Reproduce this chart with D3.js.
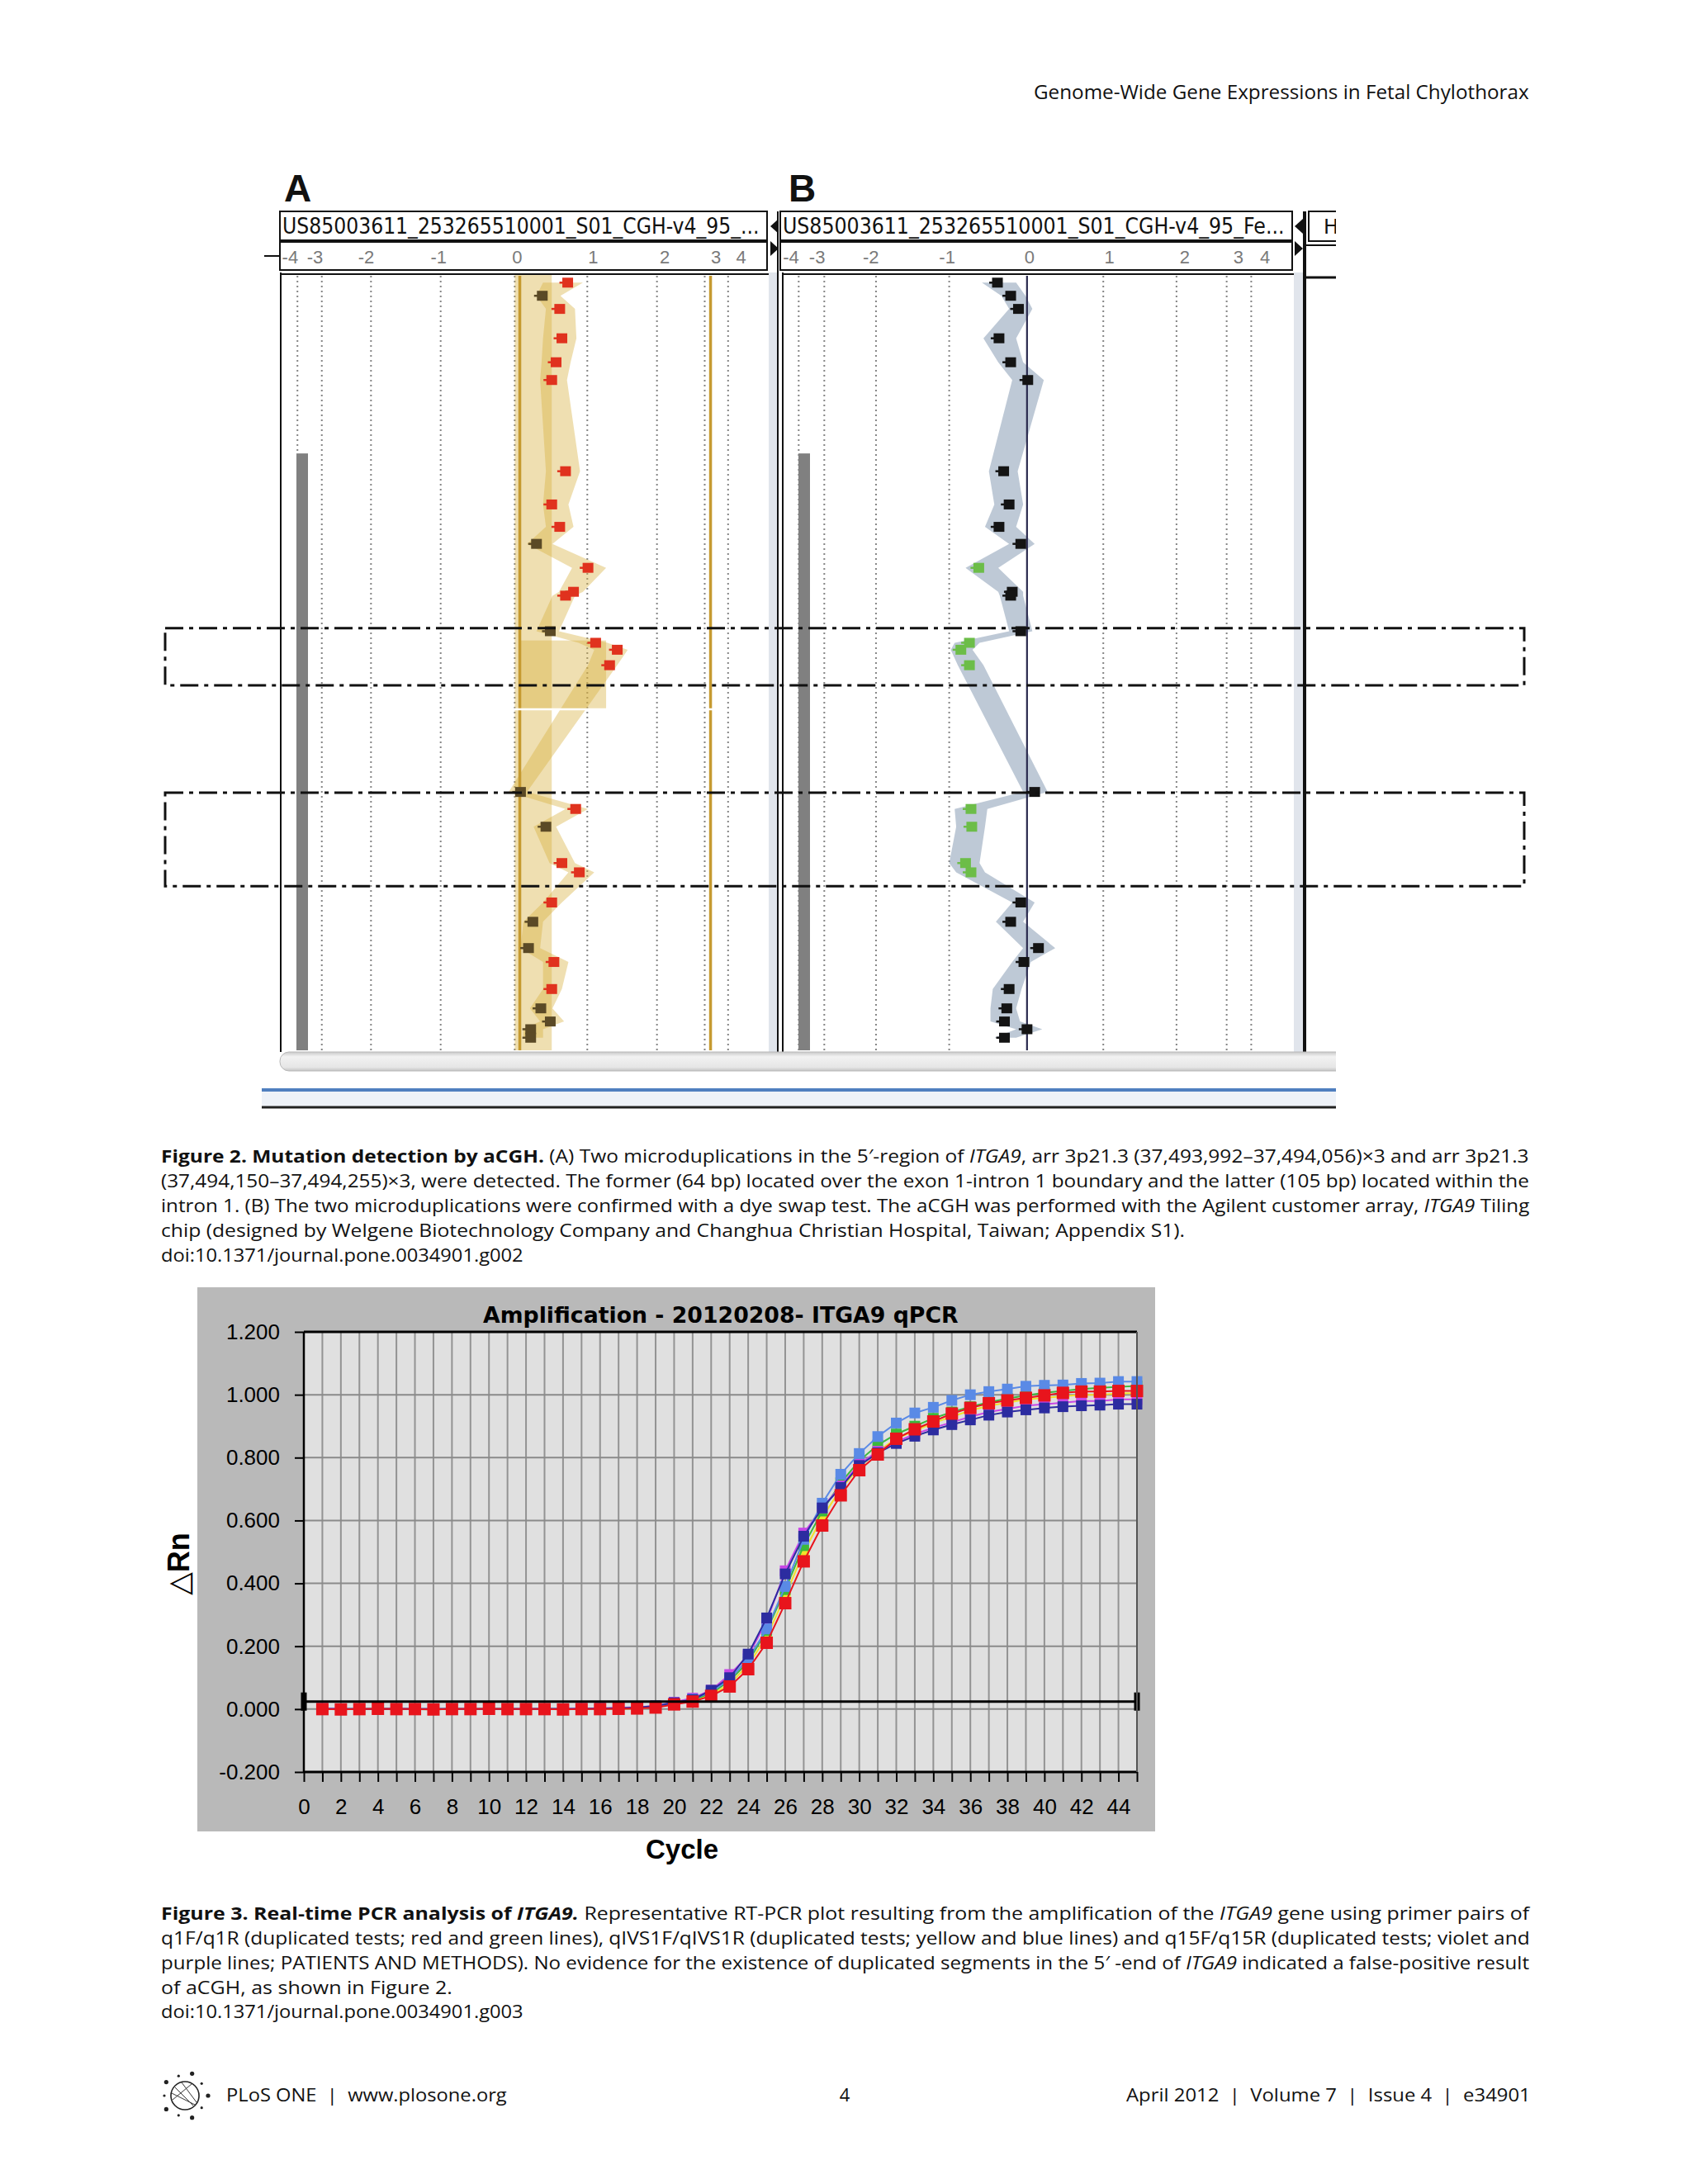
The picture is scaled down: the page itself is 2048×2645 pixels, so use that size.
<!DOCTYPE html>
<html><head><meta charset="utf-8">
<script src="https://cdn.jsdelivr.net/npm/d3@7/dist/d3.min.js"></script>
<style>html,body{margin:0;padding:0;background:#fff}svg{display:block}text{white-space:pre}</style>
</head><body>
<svg id="page" width="2048" height="2645" viewBox="0 0 2048 2645"></svg>
<script>
// ================= DATA =================
const runningHead = "Genome-Wide Gene Expressions in Fetal Chylothorax";
const panelLabels = ["A", "B"];
const panelTitles = ["US85003611_253265510001_S01_CGH-v4_95_...", "US85003611_253265510001_S01_CGH-v4_95_Fe..."];
const ratioTicks = [-4, -3, -2, -1, 0, 1, 2, 3, 4];
const ratioTickLabels = ["-4", "-3", "-2", "-1", "0", "1", "2", "3", "4"];
// probe position along the region (0 = top of view, 1000 = bottom)
const probePos = [11, 28, 45, 83, 114, 137, 255, 298, 327, 349, 380, 411, 416, 462, 477, 486, 506, 670, 692, 715, 762, 774, 813, 838, 872, 890, 925, 950, 967, 977, 988];
// panel A log ratios and error envelope
const ratioA = [0.73, 0.38, 0.62, 0.65, 0.57, 0.51, 0.70, 0.51, 0.62, 0.30, 1.01, 0.81, 0.70, 0.49, 1.12, 1.43, 1.32, 0.08, 0.84, 0.43, 0.65, 0.89, 0.51, 0.25, 0.19, 0.54, 0.51, 0.36, 0.49, 0.22, 0.22];
const loA = [0.39, 0.30, 0.43, 0.39, 0.37, 0.35, 0.43, 0.39, 0.43, 0.17, 0.79, 0.61, 0.52, 0.30, 0.88, 1.10, 1.01, -0.08, 0.70, 0.26, 0.48, 0.74, 0.39, 0.12, 0.08, 0.39, 0.39, 0.21, 0.35, 0.12, 0.12];
const hiA = [0.94, 0.63, 0.83, 0.85, 0.77, 0.72, 0.90, 0.74, 0.81, 0.52, 1.27, 0.94, 0.83, 0.61, 1.29, 1.58, 1.43, 0.17, 1.01, 0.57, 0.83, 1.10, 0.65, 0.39, 0.35, 0.74, 0.65, 0.52, 0.68, 0.39, 0.39];
// panel B (dye swap) log ratios and error envelope
const ratioB = [-0.38, -0.21, -0.11, -0.36, -0.21, 0.01, -0.30, -0.23, -0.36, -0.08, -0.62, -0.19, -0.21, -0.08, -0.74, -0.85, -0.74, 0.10, -0.72, -0.71, -0.79, -0.72, -0.08, -0.21, 0.15, -0.04, -0.23, -0.26, -0.29, 0.00, -0.29];
const loB = [-0.58, -0.33, -0.23, -0.56, -0.37, -0.19, -0.49, -0.42, -0.54, -0.23, -0.79, -0.37, -0.35, -0.23, -0.93, -0.98, -0.89, -0.05, -0.93, -0.91, -1.00, -0.91, -0.19, -0.40, -0.05, -0.19, -0.44, -0.47, -0.47, -0.14, -0.42];
const hiB = [-0.14, -0.02, 0.07, -0.14, -0.05, 0.22, -0.12, -0.05, -0.14, 0.10, -0.37, -0.05, -0.05, 0.07, -0.61, -0.70, -0.56, 0.27, -0.51, -0.54, -0.61, -0.54, 0.10, -0.05, 0.37, 0.05, -0.07, -0.14, -0.09, 0.20, -0.14];
const callThreshold = [0.5, -0.5];
const geneStartPos = 232;
const dupRegions = [[458, 532], [671, 792]];
const callRegionPos = [474, 563];
const callRegionRatio = [0.07, 1.27];
const bandRatio = [0, 0.51];
const goldLines = [0.07, 3.25];

// qPCR
const qTitle = "Amplification - 20120208- ITGA9 qPCR";
const cycles = d3.range(1, 46);
const xTickValues = d3.range(0, 46);
const yTickValues = [-0.2, 0, 0.2, 0.4, 0.6, 0.8, 1.0, 1.2];
const yTickLabels = ["-0.200", "0.000", "0.200", "0.400", "0.600", "0.800", "1.000", "1.200"];
const threshold = 0.024;
const seriesNames = ["yellow", "green", "violet", "blue", "purple", "red"];
const seriesColors = ["#f2e22a", "#3cb83c", "#c846e6", "#5a8ae6", "#2c2ca0", "#e8141c"];
const yellowRn = [0.000, 0.001, 0.000, 0.000, -0.001, 0.000, 0.000, 0.001, 0.000, 0.000, 0.000, -0.001, 0.000, 0.000, 0.001, 0.000, 0.001, 0.002, 0.006, 0.016, 0.027, 0.045, 0.080, 0.140, 0.230, 0.360, 0.500, 0.610, 0.700, 0.770, 0.820, 0.860, 0.885, 0.910, 0.930, 0.950, 0.965, 0.975, 0.985, 0.990, 0.995, 1.000, 1.000, 1.004, 1.005];
const greenRn = [0.001, 0.000, 0.000, 0.001, 0.000, 0.000, -0.001, 0.000, 0.000, 0.001, 0.000, 0.000, 0.000, 0.001, 0.000, 0.001, 0.002, 0.003, 0.008, 0.018, 0.030, 0.050, 0.090, 0.150, 0.250, 0.380, 0.520, 0.630, 0.720, 0.790, 0.840, 0.875, 0.900, 0.925, 0.945, 0.962, 0.976, 0.988, 0.998, 1.006, 1.012, 1.018, 1.022, 1.025, 1.028];
const violetRn = [0.002, 0.001, 0.000, 0.000, 0.001, 0.000, 0.000, 0.000, 0.001, 0.000, 0.000, 0.001, 0.000, 0.001, 0.002, 0.002, 0.004, 0.006, 0.010, 0.022, 0.035, 0.060, 0.110, 0.170, 0.280, 0.440, 0.560, 0.640, 0.710, 0.780, 0.820, 0.850, 0.875, 0.895, 0.912, 0.930, 0.945, 0.955, 0.965, 0.970, 0.975, 0.980, 0.980, 0.985, 0.985];
const blueRn = [0.000, 0.000, 0.001, 0.000, 0.000, 0.000, 0.001, 0.000, 0.000, 0.000, 0.001, 0.000, 0.000, 0.000, 0.001, 0.001, 0.002, 0.004, 0.008, 0.020, 0.032, 0.055, 0.095, 0.160, 0.255, 0.390, 0.540, 0.655, 0.747, 0.813, 0.867, 0.910, 0.942, 0.960, 0.982, 1.000, 1.010, 1.018, 1.027, 1.030, 1.031, 1.036, 1.037, 1.042, 1.042];
const purpleRn = [0.001, 0.000, 0.000, 0.000, 0.001, 0.000, 0.000, 0.001, 0.000, 0.000, 0.000, 0.000, 0.001, 0.000, 0.001, 0.002, 0.003, 0.005, 0.010, 0.020, 0.030, 0.060, 0.100, 0.175, 0.290, 0.430, 0.550, 0.640, 0.705, 0.775, 0.815, 0.845, 0.868, 0.888, 0.905, 0.920, 0.935, 0.945, 0.952, 0.958, 0.962, 0.965, 0.967, 0.970, 0.970];
const redRn = [0.000, -0.001, 0.000, 0.001, 0.000, 0.000, -0.001, 0.000, 0.000, 0.001, 0.000, 0.000, 0.000, -0.001, 0.000, 0.000, 0.001, 0.002, 0.005, 0.015, 0.024, 0.042, 0.072, 0.127, 0.211, 0.337, 0.470, 0.584, 0.680, 0.760, 0.810, 0.860, 0.890, 0.915, 0.940, 0.958, 0.973, 0.982, 0.990, 0.998, 1.006, 1.010, 1.010, 1.012, 1.012];
const seriesValues = [yellowRn, greenRn, violetRn, blueRn, purpleRn, redRn];

// captions (text runs: [text, style])
const fig2Caption = [
  [["Figure 2. Mutation detection by aCGH.", "b"], [" (A) Two microduplications in the 5\u2032-region of ", ""], ["ITGA9", "i"], [", arr 3p21.3 (37,493,992\u201337,494,056)\u00d73 and arr 3p21.3", ""]],
  [["(37,494,150\u201337,494,255)\u00d73, were detected. The former (64 bp) located over the exon 1-intron 1 boundary and the latter (105 bp) located within the", ""]],
  [["intron 1. (B) The two microduplications were confirmed with a dye swap test. The aCGH was performed with the Agilent customer array, ", ""], ["ITGA9", "i"], [" Tiling", ""]],
  [["chip (designed by Welgene Biotechnology Company and Changhua Christian Hospital, Taiwan; Appendix S1).", ""]],
  [["doi:10.1371/journal.pone.0034901.g002", ""]]
];
const fig3Caption = [
  [["Figure 3. Real-time PCR analysis of ", "b"], ["ITGA9.", "bi"], [" Representative RT-PCR plot resulting from the amplification of the ", ""], ["ITGA9", "i"], [" gene using primer pairs of", ""]],
  [["q1F/q1R (duplicated tests; red and green lines), qIVS1F/qIVS1R (duplicated tests; yellow and blue lines) and q15F/q15R (duplicated tests; violet and", ""]],
  [["purple lines; PATIENTS AND METHODS). No evidence for the existence of duplicated segments in the 5\u2032 -end of ", ""], ["ITGA9", "i"], [" indicated a false-positive result", ""]],
  [["of aCGH, as shown in Figure 2.", ""]],
  [["doi:10.1371/journal.pone.0034901.g003", ""]]
];
const footerLeft = "PLoS ONE  |  www.plosone.org";
const footerPage = "4";
const footerRight = "April 2012  |  Volume 7  |  Issue 4  |  e34901";

// ================= LAYOUT / DRAW =================
const svg = d3.select("#page");
svg.append("rect").attr("width", 2048).attr("height", 2645).attr("fill", "#fff");
const SANS = "'Open Sans','Noto Sans','DejaVu Sans',sans-serif";
const ARIAL = "'Liberation Sans',Arial,'DejaVu Sans',sans-serif";
const DEJA = "'DejaVu Sans',sans-serif";

// place a text so that it spans exactly `width` px starting at (x, y), by horizontal scaling
function fitText(t, x, y, width) {
  t.attr("x", 0).attr("y", 0);
  const w = t.node().getComputedTextLength();
  const sx = w > 0 ? width / w : 1;
  t.attr("transform", `translate(${x},${y}) scale(${sx.toFixed(4)},1)`);
  return t;
}

function richLine(parent, x, y, segs, width, size) {
  const t = parent.append("text").attr("font-family", SANS).attr("font-size", size).attr("fill", "#111");
  segs.forEach(s => {
    t.append("tspan").text(s[0])
      .attr("font-weight", s[1].includes("b") ? 700 : 400)
      .attr("font-style", s[1].includes("i") ? "italic" : "normal");
  });
  return fitText(t, x, y, width);
}

// running head
fitText(svg.append("text").attr("font-family", SANS).attr("font-size", 24).attr("fill", "#111").text(runningHead), 1252, 120, 600);

// ---------- Figure 2 ----------
const defs = svg.append("defs");
defs.append("clipPath").attr("id", "figClip").append("rect").attr("x", 300).attr("y", 190).attr("width", 1318).attr("height", 1160);
defs.append("clipPath").attr("id", "plotClipA").append("rect").attr("x", 341).attr("y", 333).attr("width", 590).attr("height", 939);
defs.append("clipPath").attr("id", "plotClipB").append("rect").attr("x", 949).attr("y", 333).attr("width", 618).attr("height", 939);
const grad = defs.append("linearGradient").attr("id", "scrollGrad").attr("x1", 0).attr("y1", 0).attr("x2", 0).attr("y2", 1);
grad.append("stop").attr("offset", 0).attr("stop-color", "#c9c9c9");
grad.append("stop").attr("offset", 0.25).attr("stop-color", "#f2f2f2");
grad.append("stop").attr("offset", 0.8).attr("stop-color", "#e6e6e6");
grad.append("stop").attr("offset", 1).attr("stop-color", "#c4c4c4");

const fig = svg.append("g").attr("clip-path", "url(#figClip)");
const yPos = d3.scaleLinear().domain([0, 1000]).range([332, 1268]);
// Agilent viewer's compressed log-ratio axis (grid) and its header label placement
const tickFrac = [0.036, 0.086, 0.187, 0.330, 0.482, 0.631, 0.774, 0.872, 0.920];
const labelFrac = [0.021, 0.072, 0.177, 0.326, 0.487, 0.643, 0.790, 0.895, 0.947];
const ratioScale = (x0, w, fr) => d3.scaleLinear().domain(ratioTicks).range(fr.map(f => x0 + f * w));

const panelCfg = [
  { hx0: 339, hw: 590, px0: 340, px1: 931, clip: "plotClipA", ratio: ratioA, lo: loA, hi: hiA,
    env: "rgba(215,175,60,0.40)", up: "#e0321e", mid: "#5b4a26", down: "#5b4a26", labelX: 344 },
  { hx0: 945, hw: 620, px0: 948, px1: 1567, clip: "plotClipB", ratio: ratioB, lo: loB, hi: hiB,
    env: "rgba(120,142,170,0.48)", up: "#141414", mid: "#141414", down: "#6cbd48", labelX: 955 }
];

panelCfg.forEach((cfg, pi) => {
  const xs = ratioScale(cfg.hx0, cfg.hw, tickFrac);
  const xl = ratioScale(cfg.hx0, cfg.hw, labelFrac);
  const g = fig.append("g");
  const pg = g.append("g").attr("clip-path", `url(#${cfg.clip})`);
  pg.append("rect").attr("x", cfg.px0).attr("y", 332).attr("width", cfg.px1 - cfg.px0).attr("height", 940).attr("fill", "#fff");
  // dotted grid
  ratioTicks.forEach(v => {
    if (pi === 1 && v === 0) return;
    pg.append("line").attr("x1", xs(v)).attr("x2", xs(v)).attr("y1", 334).attr("y2", 1272)
      .attr("stroke", "#858585").attr("stroke-width", 2).attr("stroke-dasharray", "2,4");
  });
  // gene bar
  pg.append("rect").attr("x", cfg.px0 + 19).attr("width", 14).attr("y", yPos(geneStartPos))
    .attr("height", yPos(1000) - yPos(geneStartPos) + 6).attr("fill", "#808080");
  if (pi === 0) {
    pg.append("rect").attr("x", xs(bandRatio[0])).attr("width", xs(bandRatio[1]) - xs(bandRatio[0]))
      .attr("y", 332).attr("height", 940).attr("fill", "rgba(215,175,60,0.40)");
    pg.append("rect").attr("x", xs(callRegionRatio[0])).attr("width", xs(callRegionRatio[1]) - xs(callRegionRatio[0]))
      .attr("y", yPos(callRegionPos[0])).attr("height", yPos(callRegionPos[1]) - yPos(callRegionPos[0]))
      .attr("fill", "rgba(215,175,60,0.40)");
  }
  const data = probePos.map((p, i) => ({ p, v: cfg.ratio[i], lo: cfg.lo[i], hi: cfg.hi[i] }));
  pg.append("path").datum(data)
    .attr("d", d3.area().y(d => yPos(d.p)).x0(d => xs(d.lo)).x1(d => xs(d.hi)))
    .attr("fill", cfg.env);
  if (pi === 0) {
    goldLines.forEach(v => pg.append("line").attr("x1", xs(v)).attr("x2", xs(v)).attr("y1", 334).attr("y2", 1272)
      .attr("stroke", "#c69a30").attr("stroke-width", 3.5));
    pg.append("line").attr("x1", xs(-0.2)).attr("x2", xs(3.6)).attr("y1", yPos(callRegionPos[1])).attr("y2", yPos(callRegionPos[1]))
      .attr("stroke", "#fff").attr("stroke-width", 2.5);
  } else {
    pg.append("line").attr("x1", xs(0)).attr("x2", xs(0)).attr("y1", 334).attr("y2", 1272)
      .attr("stroke", "#2a2a4e").attr("stroke-width", 2.2);
  }
  // probes
  data.forEach(d => {
    const col = d.v > callThreshold[0] ? cfg.up : (d.v < callThreshold[1] ? cfg.down : cfg.mid);
    const cx = xs(d.v), cy = yPos(d.p);
    pg.append("line").attr("x1", cx - 10).attr("x2", cx - 4).attr("y1", cy).attr("y2", cy).attr("stroke", col).attr("stroke-width", 2.5);
    pg.append("rect").attr("x", cx - 6.5).attr("y", cy - 6).attr("width", 13).attr("height", 12).attr("fill", col);
  });
  // plot borders
  g.append("line").attr("x1", cfg.px0).attr("x2", cfg.px0).attr("y1", 330).attr("y2", 1274).attr("stroke", "#111").attr("stroke-width", 2);
  g.append("line").attr("x1", cfg.px0).attr("x2", cfg.px1).attr("y1", 332).attr("y2", 332).attr("stroke", "#111").attr("stroke-width", 2);
  // header boxes
  g.append("rect").attr("x", cfg.hx0).attr("y", 256).attr("width", cfg.hw).attr("height", 36).attr("fill", "#fff").attr("stroke", "#111").attr("stroke-width", 2);
  g.append("rect").attr("x", cfg.hx0).attr("y", 293).attr("width", cfg.hw).attr("height", 34).attr("fill", "#fff").attr("stroke", "#111").attr("stroke-width", 2);
  g.append("line").attr("x1", cfg.hx0).attr("x2", cfg.hx0 + cfg.hw).attr("y1", 292).attr("y2", 292).attr("stroke", "#111").attr("stroke-width", 4);
  fitText(g.append("text").attr("font-family", DEJA).attr("font-size", 26).attr("fill", "#111").text(panelTitles[pi]),
    cfg.hx0 + 3, 283, cfg.hw - 12);
  ratioTicks.forEach((v, i) => {
    g.append("text").attr("x", xl(v)).attr("y", 319).attr("text-anchor", "middle").attr("font-family", ARIAL)
      .attr("font-size", 22).attr("fill", "#7a7a7a").text(ratioTickLabels[i]);
  });
  // panel letter
  svg.append("text").attr("x", cfg.labelX).attr("y", 244).attr("font-family", ARIAL).attr("font-weight", 700)
    .attr("font-size", 46).attr("fill", "#111").text(panelLabels[pi]);
});

// panel separators / triangles
fig.append("rect").attr("x", 931).attr("y", 330).attr("width", 11).attr("height", 944).attr("fill", "#e1e5ec");
fig.append("line").attr("x1", 942).attr("x2", 942).attr("y1", 256).attr("y2", 1274).attr("stroke", "#111").attr("stroke-width", 2);
fig.append("rect").attr("x", 1567).attr("y", 330).attr("width", 11).attr("height", 944).attr("fill", "#e1e5ec");
fig.append("line").attr("x1", 1580).attr("x2", 1580).attr("y1", 256).attr("y2", 1274).attr("stroke", "#111").attr("stroke-width", 4);
[943, 1578].forEach(x => {
  fig.append("path").attr("d", `M${x - 10},274 L${x},265 L${x},283 Z`).attr("fill", "#111");
  fig.append("path").attr("d", `M${x - 10},292 L${x},301 L${x - 10},310 Z`).attr("fill", "#111");
});
// left stub line
fig.append("line").attr("x1", 320).attr("x2", 340).attr("y1", 310).attr("y2", 310).attr("stroke", "#111").attr("stroke-width", 2);
// third (clipped) panel
fig.append("rect").attr("x", 1585).attr("y", 256).attr("width", 80).attr("height", 36).attr("fill", "#fff").attr("stroke", "#111").attr("stroke-width", 2);
fig.append("text").attr("x", 1603).attr("y", 283).attr("font-family", DEJA).attr("font-size", 24).attr("fill", "#111").text("H");
fig.append("line").attr("x1", 1582).attr("x2", 1620).attr("y1", 297).attr("y2", 297).attr("stroke", "#111").attr("stroke-width", 2);
fig.append("line").attr("x1", 1582).attr("x2", 1620).attr("y1", 336).attr("y2", 336).attr("stroke", "#111").attr("stroke-width", 3);
// scrollbar and bottom frame
fig.append("rect").attr("x", 339).attr("y", 1274).attr("width", 1320).attr("height", 23).attr("rx", 11)
  .attr("fill", "url(#scrollGrad)").attr("stroke", "#b9b9b9").attr("stroke-width", 1);
fig.append("rect").attr("x", 317).attr("y", 1322).attr("width", 1310).attr("height", 18).attr("fill", "#eef2f8");
fig.append("line").attr("x1", 317).attr("x2", 1620).attr("y1", 1320).attr("y2", 1320).attr("stroke", "#4f7fbf").attr("stroke-width", 4);
fig.append("line").attr("x1", 317).attr("x2", 1620).attr("y1", 1341).attr("y2", 1341).attr("stroke", "#222").attr("stroke-width", 3);

// duplication boxes
dupRegions.forEach(r => {
  svg.append("rect").attr("x", 200).attr("y", yPos(r[0])).attr("width", 1646).attr("height", yPos(r[1]) - yPos(r[0]))
    .attr("fill", "none").attr("stroke", "#111").attr("stroke-width", 3).attr("stroke-dasharray", "22,7,5,7");
});

// caption fig 2
const capSize = 21.5;
const fig2Base = [1408, 1438, 1468, 1498, 1528];
const fig2Width = [1658, 1658, 1658, 1241, 439];
fig2Caption.forEach((segs, i) => richLine(svg, 195, fig2Base[i], segs, fig2Width[i], capSize));

// ---------- Figure 3 (qPCR) ----------
const qx = d3.scaleLinear().domain([0, 45]).range([368, 1377]);
const qy = d3.scaleLinear().domain([-0.2, 1.2]).range([2146, 1613]);
const q = svg.append("g");
q.append("rect").attr("x", 239).attr("y", 1559).attr("width", 1160).attr("height", 659).attr("fill", "#b9b9b9");
q.append("rect").attr("x", qx(0)).attr("y", qy(1.2)).attr("width", qx(45) - qx(0)).attr("height", qy(-0.2) - qy(1.2)).attr("fill", "#e0e0e0");
xTickValues.forEach(c => {
  if (c === 0) return;
  q.append("line").attr("x1", qx(c)).attr("x2", qx(c)).attr("y1", qy(1.2)).attr("y2", qy(-0.2)).attr("stroke", "#939393").attr("stroke-width", 2);
});
yTickValues.forEach(v => {
  q.append("line").attr("x1", qx(0)).attr("x2", qx(45)).attr("y1", qy(v)).attr("y2", qy(v)).attr("stroke", "#8a8a8a").attr("stroke-width", 2);
});
// series
const lineGen = d3.line().x((d, i) => qx(cycles[i])).y(d => qy(d));
seriesValues.forEach((vals, si) => {
  const col = seriesColors[si];
  q.append("path").datum(vals).attr("d", lineGen).attr("fill", "none").attr("stroke", col).attr("stroke-width", 2);
  const s = si === 5 ? 15 : 13;
  q.selectAll(null).data(vals).enter().append("rect")
    .attr("x", (d, i) => qx(cycles[i]) - s / 2).attr("y", d => qy(d) - s / 2)
    .attr("width", s).attr("height", s).attr("fill", col);
});
// threshold
q.append("line").attr("x1", qx(0)).attr("x2", qx(45)).attr("y1", qy(threshold)).attr("y2", qy(threshold)).attr("stroke", "#000").attr("stroke-width", 3);
[0, 45].forEach(c => q.append("rect").attr("x", qx(c) - 3.5).attr("y", qy(threshold) - 11).attr("width", 7).attr("height", 22).attr("fill", "#000"));
// frame
q.append("line").attr("x1", qx(0)).attr("x2", qx(45)).attr("y1", qy(1.2)).attr("y2", qy(1.2)).attr("stroke", "#000").attr("stroke-width", 3);
q.append("line").attr("x1", qx(0)).attr("x2", qx(45)).attr("y1", qy(-0.2)).attr("y2", qy(-0.2)).attr("stroke", "#000").attr("stroke-width", 3);
q.append("line").attr("x1", qx(0)).attr("x2", qx(0)).attr("y1", qy(1.2)).attr("y2", qy(-0.2)).attr("stroke", "#000").attr("stroke-width", 2.5);
q.append("line").attr("x1", qx(45)).attr("x2", qx(45)).attr("y1", qy(1.2)).attr("y2", qy(-0.2)).attr("stroke", "#555").attr("stroke-width", 2);
// axes
const xAxis = d3.axisBottom(qx).tickValues(xTickValues).tickSize(12)
  .tickFormat(d => (d % 2 === 0 && d <= 44) ? String(d) : "");
const gx = q.append("g").attr("transform", `translate(0,${qy(-0.2)})`).call(xAxis);
gx.select(".domain").remove();
gx.selectAll(".tick line").attr("stroke", "#000").attr("stroke-width", 2);
gx.selectAll(".tick text").attr("font-family", ARIAL).attr("font-size", 26).attr("fill", "#000").attr("y", 33);
const yAxis = d3.axisLeft(qy).tickValues(yTickValues).tickSize(11).tickFormat((d, i) => yTickLabels[i]);
const gy = q.append("g").attr("transform", `translate(${qx(0)},0)`).call(yAxis);
gy.select(".domain").remove();
gy.selectAll(".tick line").attr("stroke", "#000").attr("stroke-width", 2);
gy.selectAll(".tick text").attr("font-family", ARIAL).attr("font-size", 26).attr("fill", "#000").attr("x", -29);
// titles
fitText(q.append("text").attr("font-family", DEJA).attr("font-weight", 700).attr("font-size", 26).attr("fill", "#000").text(qTitle), 585, 1602, 576);
svg.append("text").attr("x", 826).attr("y", 2251).attr("text-anchor", "middle").attr("font-family", ARIAL)
  .attr("font-weight", 700).attr("font-size", 33).attr("fill", "#000").text("Cycle");
svg.append("text").attr("transform", "translate(229,1894) rotate(-90)").attr("text-anchor", "middle")
  .attr("font-family", ARIAL).attr("font-weight", 700).attr("font-size", 36).attr("fill", "#000").text("\u25b3Rn");

// caption fig 3
const fig3Base = [2325, 2355, 2385, 2415, 2444];
const fig3Width = [1658, 1658, 1658, 353, 439];
fig3Caption.forEach((segs, i) => richLine(svg, 195, fig3Base[i], segs, fig3Width[i], capSize));

// ---------- footer ----------
const logo = svg.append("g").attr("transform", "translate(224,2538)");
logo.append("circle").attr("r", 17).attr("fill", "none").attr("stroke", "#222").attr("stroke-width", 1.6);
[[-12, -10, 10, 12], [-15, 5, 8, -14], [-4, -16, 14, 8], [-16, -3, 12, 11]].forEach(l =>
  logo.append("line").attr("x1", l[0]).attr("y1", l[1]).attr("x2", l[2]).attr("y2", l[3]).attr("stroke", "#333").attr("stroke-width", 1));
d3.range(0, 360, 36).forEach(a => {
  const r = 25 + (a % 72 === 0 ? 3 : 0);
  logo.append("circle").attr("cx", r * Math.cos(a * Math.PI / 180)).attr("cy", r * Math.sin(a * Math.PI / 180))
    .attr("r", a % 72 === 0 ? 2.6 : 1.6).attr("fill", "#222");
});
fitText(svg.append("text").attr("font-family", SANS).attr("font-size", 22).attr("fill", "#111").text(footerLeft), 274, 2545, 340);
svg.append("text").attr("x", 1023).attr("y", 2545).attr("text-anchor", "middle").attr("font-family", SANS).attr("font-size", 22).attr("fill", "#111").text(footerPage);
fitText(svg.append("text").attr("font-family", SANS).attr("font-size", 22).attr("fill", "#111").text(footerRight), 1364, 2545, 490);
</script>
</body></html>
